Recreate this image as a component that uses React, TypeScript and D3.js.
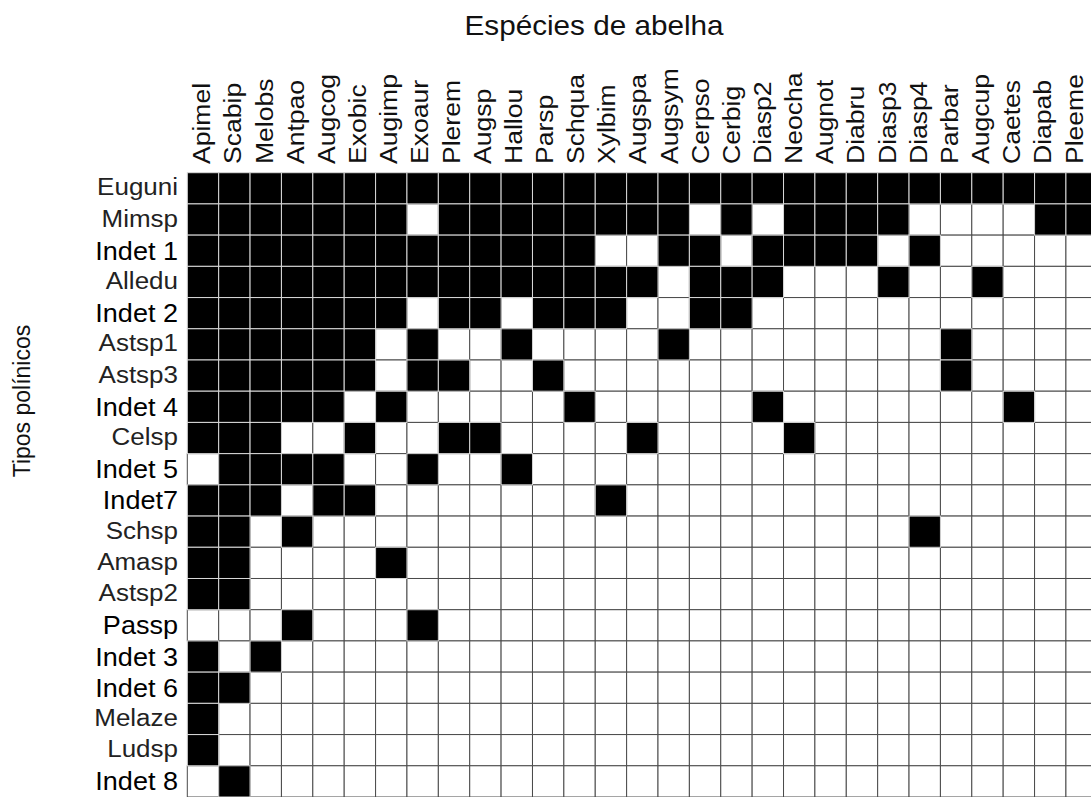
import React from "react";
import * as d3 from "d3";

// Bee species (columns) and pollen types (rows) of the interaction matrix
const beeSpecies = [
  "Apimel", "Scabip", "Melobs", "Antpao", "Augcog", "Exobic", "Augimp", "Exoaur",
  "Plerem", "Augsp", "Hallou", "Parsp", "Schqua", "Xylbim", "Augspa", "Augsym",
  "Cerpso", "Cerbig", "Diasp2", "Neocha", "Augnot", "Diabru", "Diasp3", "Diasp4",
  "Parbar", "Augcup", "Caetes", "Diapab", "Pleeme",
];

const pollenTypes = [
  "Euguni", "Mimsp", "Indet 1", "Alledu", "Indet 2", "Astsp1", "Astsp3", "Indet 4",
  "Celsp", "Indet 5", "Indet7", "Schsp", "Amasp", "Astsp2", "Passp", "Indet 3",
  "Indet 6", "Melaze", "Ludsp", "Indet 8",
];

// Presence (1) / absence (0) of each pollen type on each bee species,
// written in groups of five columns
const presence = [
  "11111 11111 11111 11111 11111 1111",
  "11111 11011 11111 10101 11100 0011",
  "11111 11111 11100 11011 11010 0000",
  "11111 11111 11111 01110 00100 1000",
  "11111 11011 01110 01100 00000 0000",
  "11111 10100 10000 10000 00001 0000",
  "11111 10110 01000 00000 00001 0000",
  "11111 01000 00100 00010 00000 0100",
  "11100 10011 00001 00001 00000 0000",
  "01111 00100 10000 00000 00000 0000",
  "11101 10000 00010 00000 00000 0000",
  "11010 00000 00000 00000 00010 0000",
  "11000 01000 00000 00000 00000 0000",
  "11000 00000 00000 00000 00000 0000",
  "00010 00100 00000 00000 00000 0000",
  "10100 00000 00000 00000 00000 0000",
  "11000 00000 00000 00000 00000 0000",
  "10000 00000 00000 00000 00000 0000",
  "10000 00000 00000 00000 00000 0000",
  "01000 00000 00000 00000 00000 0000",
];

// Unidentified pollen types, labelled in a heavier type
const undeterminedTypes = [
  "Indet 1", "Indet 2", "Indet 4", "Indet 5", "Indet7", "Passp", "Indet 3", "Indet 6", "Indet 8",
];

const W = 1091;
const H = 797;
const FONT = "'Liberation Sans', Arial, Helvetica, sans-serif";

type Cell = { row: string; col: string; value: number };

export default function App() {
  const gridLeft = 187.3;
  const cellW = 31.38;
  const x = d3
    .scaleBand<string>()
    .domain(beeSpecies)
    .range([gridLeft, gridLeft + cellW * beeSpecies.length])
    .padding(0);
  // label positions run on a slightly tighter step than the cells
  const xLabel = d3
    .scalePoint<string>()
    .domain(beeSpecies)
    .range([gridLeft + 16, gridLeft + 16 + 31.15 * (beeSpecies.length - 1)]);
  const y = d3
    .scaleBand<string>()
    .domain(pollenTypes)
    .range([172.7, 797])
    .padding(0);

  const cells: Cell[] = [];
  pollenTypes.forEach((row, i) => {
    const bits = presence[i].replace(/\s+/g, "");
    beeSpecies.forEach((col, j) => {
      cells.push({ row, col, value: +bits[j] });
    });
  });

  const empty = cells.filter((c) => c.value === 0);
  const filled = cells.filter((c) => c.value === 1);
  const bw = x.bandwidth();
  const bh = y.bandwidth();

  return (
    <svg
      width={W}
      height={H}
      style={{ position: "absolute", left: 0, top: 0, background: "#fff" }}
    >
      <rect x={0} y={0} width={W} height={H} fill="#fff" />

      {/* title */}
      <text
        transform={`translate(594,35) scale(1.06,1)`}
        textAnchor="middle"
        fontFamily={FONT}
        fontSize={28}
        fill="#111"
      >
        Espécies de abelha
      </text>

      {/* vertical axis title */}
      <text
        transform={`translate(30,401) rotate(-90)`}
        textAnchor="middle"
        fontFamily={FONT}
        fontSize={23}
        fill="#111"
      >
        Tipos polínicos
      </text>

      {/* empty cells */}
      <g>
        {empty.map((c) => (
          <rect
            key={`e-${c.row}-${c.col}`}
            x={x(c.col)}
            y={y(c.row)}
            width={bw}
            height={bh}
            fill="#fff"
            stroke="#4a4a4a"
            strokeWidth={1}
          />
        ))}
      </g>

      {/* recorded interactions */}
      <g>
        {filled.map((c) => (
          <rect
            key={`f-${c.row}-${c.col}`}
            x={x(c.col)}
            y={y(c.row)}
            width={bw}
            height={bh}
            fill="#000"
            stroke="#d9d9d9"
            strokeWidth={1}
          />
        ))}
      </g>

      {/* column labels */}
      <g>
        {beeSpecies.map((s) => (
          <text
            key={s}
            transform={`translate(${(xLabel(s) as number) + 7},164) rotate(-90) scale(1.13,1)`}
            textAnchor="start"
            fontFamily={FONT}
            fontSize={23.5}
            fill="#111"
          >
            {s}
          </text>
        ))}
      </g>

      {/* row labels */}
      <g>
        {pollenTypes.map((p) => {
          const big = undeterminedTypes.includes(p);
          const cy = (y(p) as number) + bh / 2;
          return (
            <text
              key={p}
              transform={`translate(178,${cy + (big ? 9 : 7)}) scale(${big ? 1.04 : 1.13},1)`}
              textAnchor="end"
              fontFamily={FONT}
              fontSize={big ? 26 : 23}
              fill={big ? "#000" : "#222"}
            >
              {p}
            </text>
          );
        })}
      </g>
    </svg>
  );
}
